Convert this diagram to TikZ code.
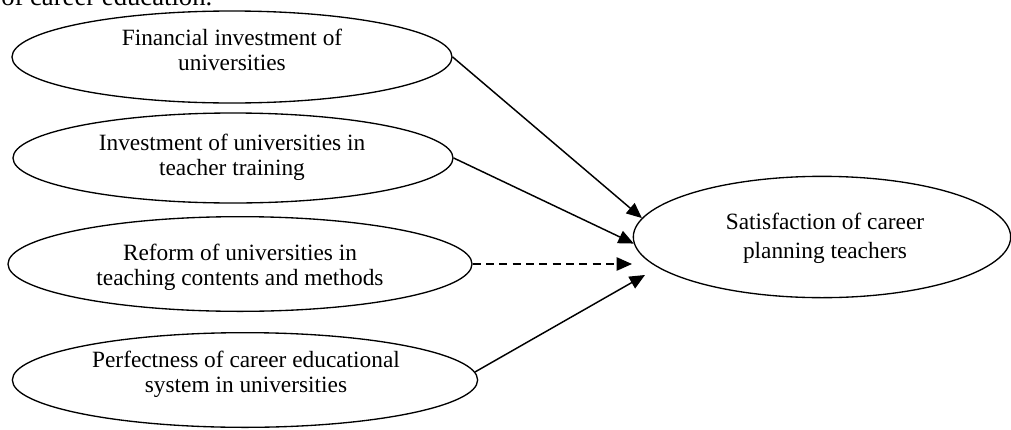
\documentclass[tikz,border=0pt]{standalone}
\usepackage{fontspec}
\setmainfont{Liberation Serif}
\usetikzlibrary{arrows.meta,shapes.geometric}
\begin{document}
\begin{tikzpicture}[x=0.75pt,y=-0.75pt,
  oval/.style={draw, ellipse, line width=1pt, inner sep=0pt},
  txt/.style={align=center, inner sep=0pt, font=\fontsize{17.5}{19}\selectfont},
  link/.style={line width=1.1pt, -{Triangle[length=11.5pt,width=10pt]}},
  dashlink/.style={link, dash pattern=on 6pt off 4pt},
]
\useasboundingbox (0,0) rectangle (1011,429);

% running text above the figure
\begin{scope}
  \clip (0,0) rectangle (1011,429);
  \node[anchor=base west, inner sep=0pt, font=\fontsize{20}{24}\selectfont] (head) at (1,5) {of career education.};
\end{scope}

% factor ellipses
\node[oval, minimum width=330pt, minimum height=69pt] (e1) at (232,57) {};
\node[oval, minimum width=330pt, minimum height=67.5pt] (e2) at (233,158) {};
\node[oval, minimum width=348pt, minimum height=71pt] (e3) at (240,264) {};
\node[oval, minimum width=349pt, minimum height=71pt] (e4) at (245,380) {};
\node[oval, minimum width=283pt, minimum height=91pt] (sat) at (822,237) {};

\node[txt] (t1) at (232,50) {Financial investment of\\universities};
\node[txt] (t2) at (232,157) {Investment of universities in\\teacher training};
\node[txt] (t3) at (240,267) {Reform of universities in\\teaching contents and methods};
\node[txt] (t4) at (246,374) {Perfectness of career educational\\system in universities};
\node[txt, font=\fontsize{17.5}{22}\selectfont] (ts) at (825,238) {Satisfaction of career\\planning teachers};

% arrow tips that stop short of the outcome ellipse
\coordinate (p3) at (632,264);
\coordinate (p4) at (645,275);

% connectors
\draw[link] (e1.east) -- (sat.174);
\draw[link] (e2.east) -- (sat.182);
\draw[dashlink] (e3.east) -- (p3);
\draw[link] (e4.2) -- (p4);
\end{tikzpicture}
\end{document}
